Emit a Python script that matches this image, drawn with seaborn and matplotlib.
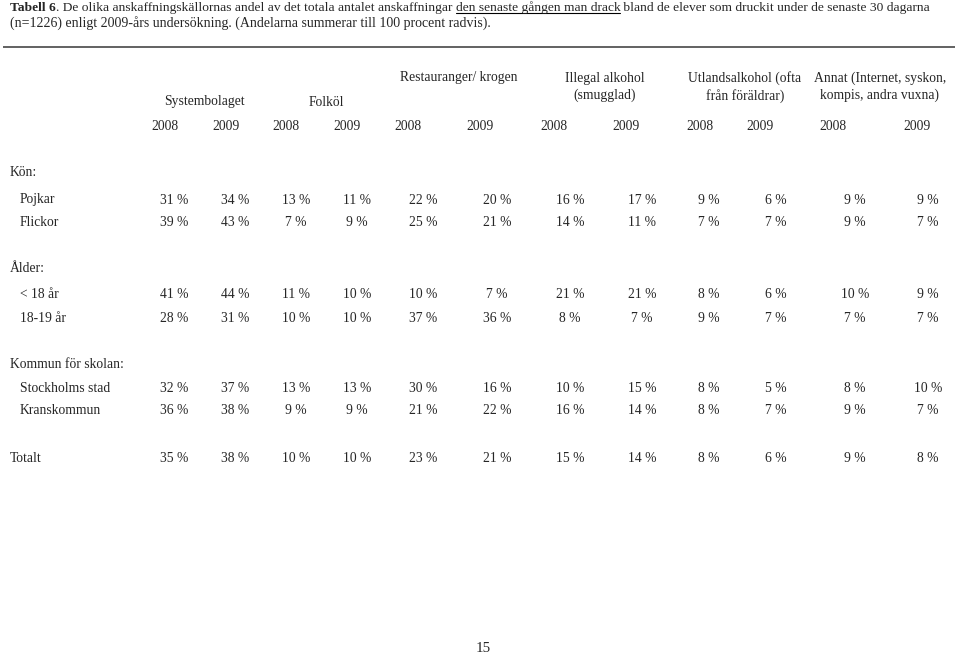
import matplotlib
matplotlib.use("Agg")
import matplotlib.pyplot as plt
import seaborn as sns
import pandas as pd

sns.set_theme(style="white")
plt.rcParams['font.family'] = ['Liberation Serif', 'DejaVu Serif']

# ---- data ----
sources = ["Systembolaget", "Folköl", "Restauranger/ krogen",
           "Illegal alkohol\n(smugglad)", "Utlandsalkohol (ofta\nfrån föräldrar)",
           "Annat (Internet, syskon,\nkompis, andra vuxna)"]
years = ["2008", "2009"]
groups = ["Kön:", "Ålder:", "Kommun för skolan:", None]
row_labels = ["Pojkar", "Flickor", "< 18 år", "18-19 år", "Stockholms stad", "Kranskommun", "Totalt"]
pojkar = [31, 34, 13, 11, 22, 20, 16, 17, 9, 6, 9, 9]
flickor = [39, 43, 7, 9, 25, 21, 14, 11, 7, 7, 9, 7]
under18 = [41, 44, 11, 10, 10, 7, 21, 21, 8, 6, 10, 9]
age1819 = [28, 31, 10, 10, 37, 36, 8, 7, 9, 7, 7, 7]
stockholm = [32, 37, 13, 13, 30, 16, 10, 15, 8, 5, 8, 10]
krans = [36, 38, 9, 9, 21, 22, 16, 14, 8, 7, 9, 7]
totalt = [35, 38, 10, 10, 23, 21, 15, 14, 8, 6, 9, 8]
title_a = "Tabell 6"
title_b = ". De olika anskaffningskällornas andel av det totala antalet anskaffningar "
title_u = "den senaste gången man drack"
title_c = " bland de elever som druckit under de senaste 30 dagarna"
title_2 = "(n=1226) enligt 2009-års undersökning. (Andelarna summerar till 100 procent radvis)."
page_no = "15"

# ---- layout (pixel coordinates) ----
W, H = 959, 656
fig = plt.figure(figsize=(W / 100, H / 100), dpi=100)
ax = fig.add_axes([0, 0, 1, 1])
ax.set_xlim(0, W)
ax.set_ylim(H, 0)
ax.axis("off")

FS = 9.8
TFS1 = 9.7
TFS2 = 10.0

# title with chained pieces
t1 = ax.text(10, 8, title_a, fontsize=TFS1, fontweight="bold", va="center", ha="left")
t2 = ax.annotate(title_b, xy=(1, 0), xycoords=t1, va="bottom", ha="left", fontsize=TFS1)
t3 = ax.annotate(title_u, xy=(1, 0), xycoords=t2, va="bottom", ha="left", fontsize=TFS1)
t4 = ax.annotate(title_c, xy=(1, 0), xycoords=t3, va="bottom", ha="left", fontsize=TFS1)
ax.text(10, 23, title_2, fontsize=TFS2, va="center", ha="left")

ax.plot([3, 955], [47, 47], color="#555555", lw=1.3, solid_capstyle="butt")

# headers
header_x = [204, 326, 459, 605, 745, 880]
header_y = [102, 102, 78, 87, 87, 87]
for s, x, y in zip(sources, header_x, header_y):
    ax.text(x, y, s, fontsize=FS, ha="center", va="center", linespacing=1.3)

year_x = [165, 226, 286, 347, 408, 480, 554, 626, 700, 760, 833, 917]
for i, x in enumerate(year_x):
    ax.text(x, 127, years[i % 2], fontsize=FS, ha="center", va="center")

val_x = [174, 235, 296, 357, 423, 497, 570, 642, 709, 776, 855, 928]

group_y = [172, 269, 364]
for g, y in zip(groups[:3], group_y):
    ax.text(10, y, g, fontsize=FS, ha="left", va="center")

rows = [pojkar, flickor, under18, age1819, stockholm, krans, totalt]
row_y = [200, 223, 295, 318, 388, 411, 459]
row_lx = [20, 20, 20, 20, 20, 20, 10]
df = pd.DataFrame(rows, index=row_labels)
for (lab, vals), y, lx in zip(df.iterrows(), row_y, row_lx):
    ax.text(lx, y, lab, fontsize=FS, ha="left", va="center")
    for x, v in zip(val_x, vals):
        ax.text(x, y, f"{v} %", fontsize=FS, ha="center", va="center")

ax.text(483, 648, page_no, fontsize=FS + 1, ha="center", va="center")

# underline
fig.canvas.draw()
r = fig.canvas.get_renderer()
bb = t3.get_window_extent(renderer=r)
inv = ax.transData.inverted()
(x0, y0), (x1, y1) = inv.transform([[bb.x0, bb.y0], [bb.x1, bb.y1]])
ax.plot([x0, x1], [y0 - 1, y0 - 1], color="black", lw=0.8)

fig.savefig("out.png", dpi=100)
